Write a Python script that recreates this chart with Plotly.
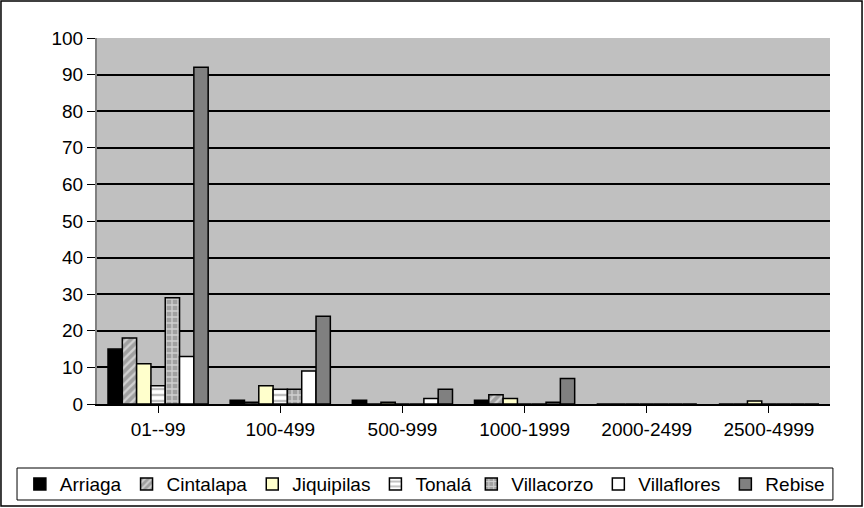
import plotly.graph_objects as go

categories = ["01--99", "100-499", "500-999", "1000-1999", "2000-2499", "2500-4999"]

arriaga = [15, 1, 1, 1, 0, 0]
cintalapa = [18, 0.5, 0, 2.5, 0, 0]
jiquipilas = [11, 5, 0.5, 1.5, 0, 0.8]
tonala = [5, 4, 0, 0, 0, 0]
villacorzo = [29, 4, 0, 0, 0, 0]
villaflores = [13, 9, 1.5, 0.5, 0, 0]
rebise = [92, 24, 4, 7, 0, 0]

# name, values, fill, pattern, pattern colour, legend box
series = [
    ("Arriaga", arriaga, "#000000", "", "#000000", "legend"),
    ("Cintalapa", cintalapa, "#A0A0A0", "/", "#FFFFFF", "legend"),
    ("Jiquipilas", jiquipilas, "#FFFFCC", "", "#000000", "legend"),
    ("Tonalá", tonala, "#FFFFFF", "-", "#808080", "legend"),
    ("Villacorzo", villacorzo, "#A0A0A0", "+", "#FFFFFF", "legend2"),
    ("Villaflores", villaflores, "#FFFFFF", "", "#000000", "legend2"),
    ("Rebise", rebise, "#808080", "", "#000000", "legend2"),
]

fig = go.Figure()
for name, vals, color, shape, fg, leg in series:
    fig.add_trace(go.Bar(
        x=categories, y=vals, name=name, legend=leg,
        marker=dict(
            color=color,
            line=dict(color="#000000", width=1.5),
            pattern=dict(shape=shape, fgcolor=fg, bgcolor=color, size=6, solidity=0.4),
        ),
    ))

legend_style = dict(orientation="h", xref="container", yref="container",
                    y=0.047, yanchor="middle", bgcolor="rgba(0,0,0,0)",
                    borderwidth=0, font=dict(size=19), itemwidth=30,
                    tracegroupgap=0)

# plot area: x 97..830, y 38..404 (pixels)
fig.update_layout(
    width=864, height=508,
    barmode="group", bargap=0.18, bargroupgap=0,
    plot_bgcolor="#C0C0C0", paper_bgcolor="#FFFFFF",
    font=dict(family="Liberation Sans, Arial", size=19, color="#000000"),
    margin=dict(l=97, r=34, t=38, b=104, autoexpand=False),
    xaxis=dict(showline=True, linecolor="#000000", linewidth=1.5,
               ticks="outside", ticklen=7, tickcolor="#000000",
               tickfont=dict(size=19)),
    yaxis=dict(range=[0, 100], dtick=10, showline=True, linecolor="#808080",
               linewidth=2, gridcolor="#000000", gridwidth=1.5,
               ticks="outside", ticklen=8, tickcolor="#000000",
               zeroline=False, tickfont=dict(size=19)),
    legend=dict(x=0.023, xanchor="left", **legend_style),
    legend2=dict(x=0.961, xanchor="right", **legend_style),
    shapes=[
        # outer chart border
        dict(type="rect", xref="paper", yref="paper", x0=-0.131, x1=1.0437,
             y0=-0.2787, y1=1.101, line=dict(color="#000000", width=1.5)),
        # legend frame
        dict(type="rect", xref="paper", yref="paper", x0=-0.1091, x1=1.004,
             y0=-0.2623, y1=-0.1749, line=dict(color="#000000", width=1)),
    ],
)

fig.write_html("out.html", config={"displayModeBar": False},
               post_script="document.body.style.margin='0';")
